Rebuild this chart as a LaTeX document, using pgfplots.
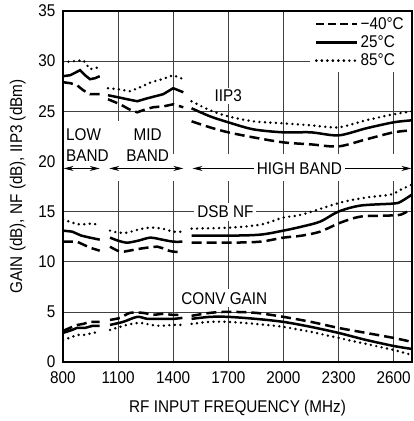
\documentclass[border=0pt]{standalone}
\usepackage{fontspec}
\setmainfont{Liberation Sans}[FakeStretch=0.9]
\usepackage{pgfplots}
\pgfplotsset{compat=1.18}
\usetikzlibrary{arrows.meta}

\tikzset{
  m40/.style={black, line width=2.5pt, dash pattern=on 10pt off 5pt},
  p25/.style={black, line width=2.5pt},
  p85/.style={black, line width=2.7pt, line cap=round, dash pattern=on 0pt off 5.5pt},
  band/.style={{Stealth[length=10pt,width=5pt]}-{Stealth[length=10pt,width=5pt]}, line width=0.8pt},
}

\begin{document}
\begin{tikzpicture}[font=\fontsize{17}{20}\selectfont]
\begin{axis}[
  width=349pt, height=351pt, scale only axis,
  xmin=800, xmax=2700, ymin=0, ymax=35,
  xtick={800,1100,...,2600}, ytick={0,5,...,35},
  grid=major, major grid style={black!75, line width=0.7pt},
  major tick length=0pt,
  axis line style={black, line width=1.3pt},
  tick label style={font=\fontsize{17}{20}\selectfont},
  /pgf/number format/assume math mode=true,
  /pgf/number format/set thousands separator={},
  xticklabel style={yshift=-6pt},
  yticklabel style={xshift=-4pt},
  xlabel={RF INPUT FREQUENCY (MHz)},
  ylabel={GAIN (dB), NF (dB), IIP3 (dBm)},
  xlabel style={at={(axis description cs:0.5,-0.131)}, anchor=center},
  ylabel style={at={(axis description cs:-0.13,0.5)}, anchor=center},
  legend image code/.code={\draw[#1] (0pt,0pt) -- (32pt,0pt); \path (0pt,0pt) -- (41pt,0pt);},
  legend style={at={(rel axis cs:1,1)}, xshift=-1pt, yshift=-1pt, anchor=north east,
    draw=none, fill=white, inner xsep=5pt, inner ysep=3pt, row sep=1pt,
    font=\fontsize{17}{20}\selectfont},
  legend cell align=left,
]
\addlegendimage{m40, dash pattern=on 8pt off 4pt}\addlegendentry{−40°C}
\addlegendimage{p25}\addlegendentry{25°C}
\addlegendimage{p85}\addlegendentry{85°C}

\coordinate (sw) at (rel axis cs:0,0);
\coordinate (ne) at (rel axis cs:1,1);

% white areas over the grid
\fill[white] (axis cs:805,18.0) rectangle (axis cs:2695,20.7);
\fill[white] (axis cs:1085,20.7) rectangle (axis cs:1370,24.0);
\node[fill=white, inner sep=2pt] at (axis cs:1700,26.55) {IIP3};
\node[fill=white, inner sep=3pt] at (axis cs:1684,15) {DSB NF};
\node[fill=white, inner sep=3pt] at (axis cs:1678,6.35) {CONV GAIN};

% band labels and arrows
\node[align=left, anchor=west, inner sep=0pt, font=\fontsize{17}{21}\selectfont] at (axis cs:816,21.65) {LOW\\BAND};
\node[align=center, inner sep=0pt, font=\fontsize{17}{21}\selectfont] at (axis cs:1261,21.65) {MID\\BAND};
\draw[band] (axis cs:803,19.3) -- (axis cs:1000,19.3);
\draw[band] (axis cs:1052,19.3) -- (axis cs:1455,19.3);
\draw[band] (axis cs:1505,19.3) -- (axis cs:2697,19.3);
\node[fill=white, inner xsep=3pt, inner ysep=1pt] at (axis cs:2087,19.3) {HIGH BAND};

% IIP3
\addplot[m40, forget plot] coordinates {(800,27.9)(840,27.8)(876,27.6)(910,27.1)(947,26.7)(1000,26.7)};
\addplot[p25, forget plot] coordinates {(800,28.5)(840,28.6)(893,29.1)(920,28.6)(947,28.2)(975,28.3)(1000,28.5)};
\addplot[p85, forget plot] coordinates {(800,29.9)(860,30.0)(910,30.1)(947,29.2)(975,29.3)(1000,29.4)};
\addplot[m40, forget plot] coordinates {(1045,26.2)(1111,25.7)(1160,25.2)(1204,24.9)(1250,25.2)(1290,25.4)(1350,25.5)(1400,25.7)(1455,25.4)};
\addplot[p25, forget plot] coordinates {(1045,26.6)(1100,26.4)(1150,26.2)(1204,26.0)(1260,26.3)(1345,26.7)(1400,27.3)(1455,26.9)};
\addplot[p85, forget plot] coordinates {(1045,27.3)(1100,27.2)(1165,27.0)(1220,27.4)(1280,27.9)(1340,28.2)(1400,28.6)(1455,28.2)};
\addplot[m40, smooth, forget plot] coordinates {(1500,24.0)(1600,23.4)(1700,22.9)(1836,22.4)(2000,21.9)(2150,21.7)(2300,21.5)(2450,22.2)(2600,22.9)(2700,23.1)};
\addplot[p25, smooth, forget plot] coordinates {(1500,25.3)(1600,24.5)(1700,23.9)(1836,23.2)(2000,22.9)(2150,22.9)(2300,22.6)(2450,23.3)(2600,23.9)(2700,24.1)};
\addplot[p85, smooth, forget plot] coordinates {(1500,26.0)(1600,25.1)(1700,24.5)(1836,24.0)(2000,23.8)(2150,23.6)(2300,23.4)(2450,24.1)(2600,24.7)(2700,25.0)};

% DSB NF
\addplot[m40, forget plot] coordinates {(800,12.0)(876,12.0)(947,11.4)(1000,11.1)};
\addplot[p25, forget plot] coordinates {(800,13.1)(850,13.0)(900,12.6)(947,12.4)(1000,12.2)};
\addplot[p85, forget plot] coordinates {(800,14.2)(850,13.9)(893,13.7)(950,13.8)(1000,13.7)};
\addplot[m40, smooth, forget plot] coordinates {(1056,11.5)(1111,11.0)(1160,11.1)(1220,11.3)(1313,11.5)(1360,11.2)(1400,11.0)(1450,11.0)};
\addplot[p25, smooth, forget plot] coordinates {(1056,12.4)(1100,12.1)(1149,11.9)(1210,12.1)(1275,12.4)(1340,12.2)(1400,12.0)(1450,12.0)};
\addplot[p85, smooth, forget plot] coordinates {(1056,13.1)(1100,12.9)(1149,12.9)(1210,13.2)(1275,13.4)(1340,13.3)(1400,13.0)(1450,13.0)};
\addplot[m40, smooth, forget plot] coordinates {(1500,11.9)(1711,11.9)(1875,12.0)(2000,12.4)(2100,12.6)(2200,13.0)(2311,13.9)(2420,14.5)(2567,14.6)(2640,14.7)(2700,15.3)};
\addplot[p25, smooth, forget plot] coordinates {(1500,12.6)(1711,12.6)(1875,12.7)(2000,13.1)(2100,13.5)(2200,14.0)(2300,15.0)(2420,15.6)(2600,15.8)(2640,16.0)(2700,16.7)};
\addplot[p85, smooth, forget plot] coordinates {(1500,13.3)(1711,13.4)(1875,13.7)(2000,14.4)(2100,14.7)(2311,15.9)(2450,16.4)(2584,16.7)(2640,17.2)(2700,17.7)};

% CONV GAIN
\addplot[m40, forget plot] coordinates {(800,3.1)(850,3.5)(880,3.7)(910,3.8)(947,4.0)(1000,4.0)};
\addplot[p25, forget plot] coordinates {(800,2.9)(850,3.2)(876,3.4)(920,3.4)(960,3.6)(1000,3.6)};
\addplot[p85, forget plot] coordinates {(800,2.2)(850,2.5)(876,2.7)(920,2.7)(960,2.9)(1000,3.0)};
\addplot[m40, smooth, forget plot] coordinates {(1056,4.2)(1111,4.4)(1165,4.9)(1236,4.9)(1290,4.7)(1340,4.8)(1400,4.7)(1450,4.7)};
\addplot[p25, smooth, forget plot] coordinates {(1056,3.7)(1127,4.0)(1204,4.5)(1260,4.3)(1330,4.3)(1400,4.3)(1450,4.4)};
\addplot[p85, smooth, forget plot] coordinates {(1056,3.2)(1149,3.7)(1220,3.9)(1280,3.7)(1329,3.6)(1400,3.7)(1450,3.7)};
\addplot[m40, smooth, forget plot] coordinates {(1500,4.6)(1600,4.9)(1700,5.0)(1850,4.9)(2000,4.5)(2150,4.0)(2300,3.4)(2450,2.9)(2600,2.4)(2700,2.0)};
\addplot[p25, smooth, forget plot] coordinates {(1500,4.3)(1600,4.5)(1700,4.5)(1850,4.3)(2000,4.0)(2150,3.5)(2300,2.9)(2450,2.2)(2600,1.6)(2700,1.3)};
\addplot[p85, smooth, forget plot] coordinates {(1500,3.8)(1600,4.0)(1700,4.0)(1850,3.8)(2000,3.5)(2150,3.0)(2300,2.4)(2450,1.8)(2600,1.2)(2700,0.7)};
\end{axis}
\pgfresetboundingbox
\path ([shift={(-63pt,-59pt)}]sw) rectangle ([shift={(2pt,11pt)}]ne);
\end{tikzpicture}
\end{document}
